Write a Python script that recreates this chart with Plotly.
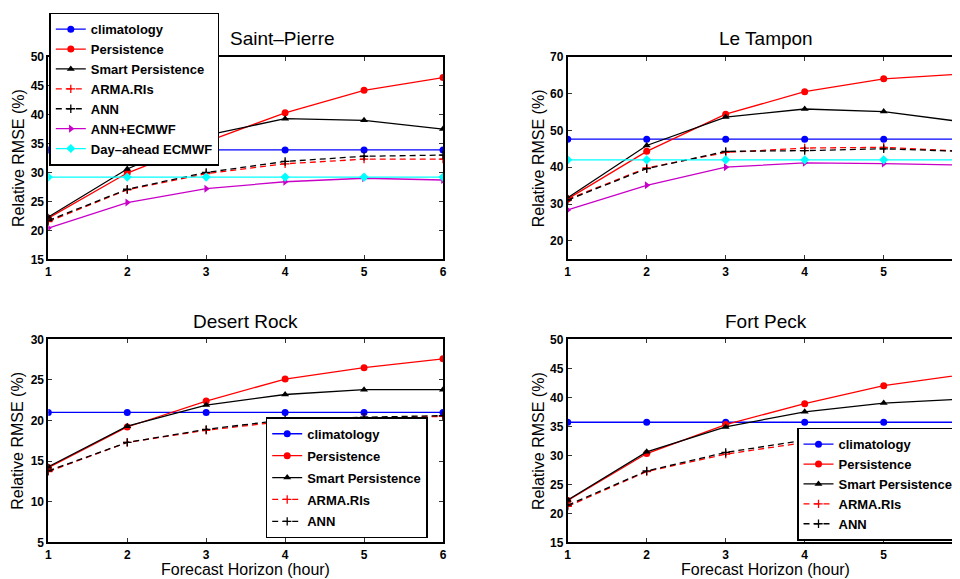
import plotly.graph_objects as go

# ---------------- data ----------------
horizon = [1, 2, 3, 4, 5, 6]
series_names = ["climatology", "Persistence", "Smart Persistence", "ARMA.RIs",
                "ANN", "ANN+ECMWF", "Day–ahead ECMWF"]

# Saint-Pierre
sp_clim = [33.9, 33.9, 33.9, 33.9, 33.9, 33.9]
sp_pers = [22.1, 29.9, 35.3, 40.3, 44.2, 46.4]
sp_smart = [22.3, 30.6, 36.4, 39.3, 39.0, 37.5]
sp_arma = [21.5, 27.0, 29.8, 31.5, 32.3, 32.3]
sp_ann = [21.7, 27.1, 30.0, 31.9, 32.8, 33.0]
sp_annec = [20.4, 24.8, 27.2, 28.4, 29.0, 28.7]
sp_dayahead = [29.2, 29.2, 29.2, 29.2, 29.2, 29.2]

# Le Tampon
lt_clim = [47.6, 47.6, 47.6, 47.6, 47.6, 47.6]
lt_pers = [31.4, 44.3, 54.4, 60.5, 64.0, 65.3]
lt_smart = [31.7, 45.9, 53.6, 55.8, 55.1, 52.3]
lt_arma = [31.3, 39.8, 44.0, 45.2, 45.4, 44.3]
lt_ann = [31.1, 39.6, 44.3, 44.5, 45.0, 44.3]
lt_annec = [28.4, 35.1, 40.0, 41.2, 41.0, 40.6]
lt_dayahead = [42.0, 42.0, 42.0, 42.0, 42.0, 42.0]

# Desert Rock
dr_clim = [21.0, 21.0, 21.0, 21.0, 21.0, 21.0]
dr_pers = [14.2, 19.2, 22.4, 25.1, 26.5, 27.6]
dr_smart = [14.3, 19.3, 21.9, 23.2, 23.8, 23.8]
dr_arma = [13.7, 17.3, 18.8, 19.9, 20.3, 20.5]
dr_ann = [13.8, 17.3, 18.9, 20.1, 20.4, 20.6]

# Fort Peck
fp_clim = [35.7, 35.7, 35.7, 35.7, 35.7, 35.7]
fp_pers = [22.2, 30.3, 35.3, 38.9, 42.0, 43.9]
fp_smart = [22.3, 30.6, 34.9, 37.5, 39.0, 39.7]
fp_arma = [21.2, 27.2, 30.2, 32.2, 33.6, 34.4]
fp_ann = [21.4, 27.3, 30.5, 32.6, 33.7, 34.4]

station_titles = ["Saint–Pierre", "Le Tampon", "Desert Rock", "Fort Peck"]
y_tick_values = [
    [15, 20, 25, 30, 35, 40, 45, 50],
    [20, 30, 40, 50, 60, 70],
    [5, 10, 15, 20, 25, 30],
    [15, 20, 25, 30, 35, 40, 45, 50],
]
y_ranges = [[15, 50], [15, 70], [5, 30], [15, 50]]
y_title = "Relative RMSE (%)"
x_title = "Forecast Horizon (hour)"

# ---------------- styling ----------------
FONT = "Liberation Sans, Arial, Helvetica, sans-serif"
styles = {
    "climatology": dict(color="#0000ff", symbol="circle", dash="solid", size=7),
    "Persistence": dict(color="#ff0000", symbol="circle", dash="solid", size=7),
    "Smart Persistence": dict(color="#000000", symbol="triangle-up", dash="solid", size=7),
    "ARMA.RIs": dict(color="#ff0000", symbol="cross-thin", dash="6px,4px", size=6),
    "ANN": dict(color="#000000", symbol="cross-thin", dash="6px,4px", size=6),
    "ANN+ECMWF": dict(color="#c800c8", symbol="triangle-right", dash="solid", size=7),
    "Day–ahead ECMWF": dict(color="#00ffff", symbol="diamond", dash="solid", size=7),
}

fig = go.Figure()

panels = [
    ("x", "y", "legend", True, [sp_clim, sp_pers, sp_smart, sp_arma, sp_ann, sp_annec, sp_dayahead]),
    ("x2", "y2", "legend", False, [lt_clim, lt_pers, lt_smart, lt_arma, lt_ann, lt_annec, lt_dayahead]),
    ("x3", "y3", "legend2", True, [dr_clim, dr_pers, dr_smart, dr_arma, dr_ann]),
    ("x4", "y4", "legend3", True, [fp_clim, fp_pers, fp_smart, fp_arma, fp_ann]),
]

for pi, (xa, ya, leg, show, series) in enumerate(panels):
    for name, vals in zip(series_names, series):
        st = styles[name]
        thin = st["symbol"] == "cross-thin"
        fig.add_trace(go.Scatter(
            x=horizon, y=vals, name=name, mode="lines+markers",
            xaxis=xa, yaxis=ya,
            legend=leg,
            legendgroup=f"p{pi}-{name}",
            showlegend=show,
            line=dict(color=st["color"], width=1.3, dash=st["dash"]),
            marker=dict(symbol=st["symbol"], size=st["size"], color=st["color"],
                        line=dict(width=1.3 if thin else 0, color=st["color"])),
        ))

# ---------------- geometry (page px -> figure px; page body has an 8px margin) ----------------
OFF = 8.0
W = 960.0 - OFF
H = 579.0 - OFF


def fx(px):
    return (px - OFF) / W


def fy(py):
    return 1 - (py - OFF) / H


left_dom = [fx(48.3), fx(443.0)]
right_dom = [fx(567.7), 1.0]
top_dom = [fy(259.3), fy(56.7)]
bot_dom = [fy(542.3), fy(339.3)]
right_xmax = 1 + (960.0 - 567.7) / 79.0

tickfont = dict(family=FONT, size=12, color="black", weight="bold")


def xaxis(dom, rng, anchor):
    return dict(domain=dom, range=rng, anchor=anchor, tickvals=horizon,
                ticks="inside", ticklen=4, tickwidth=1, tickcolor="#333",
                showline=True, linecolor="black", linewidth=1.8,
                mirror="ticks", showgrid=False, zeroline=False,
                tickfont=tickfont, automargin=False)


def yaxis(dom, rng, ticks_, anchor, mirror):
    return dict(domain=dom, range=rng, anchor=anchor, tickvals=ticks_,
                ticks="inside", ticklen=4, tickwidth=1, tickcolor="#333",
                showline=True, linecolor="black", linewidth=1.8,
                mirror=mirror, showgrid=False, zeroline=False,
                tickfont=tickfont, automargin=False)


fig.update_layout(
    xaxis=xaxis(left_dom, [1, 6], "y"),
    yaxis=yaxis(top_dom, y_ranges[0], y_tick_values[0], "x", "ticks"),
    xaxis2=xaxis(right_dom, [1, right_xmax], "y2"),
    yaxis2=yaxis(top_dom, y_ranges[1], y_tick_values[1], "x2", False),
    xaxis3=xaxis(left_dom, [1, 6], "y3"),
    yaxis3=yaxis(bot_dom, y_ranges[2], y_tick_values[2], "x3", "ticks"),
    xaxis4=xaxis(right_dom, [1, right_xmax], "y4"),
    yaxis4=yaxis(bot_dom, y_ranges[3], y_tick_values[3], "x4", False),
)

legend_common = dict(
    bgcolor="white", bordercolor="black", borderwidth=1.5,
    font=dict(family=FONT, size=13, color="black", weight="bold"),
    itemwidth=30, xanchor="left",
)
fig.update_layout(
    legend=dict(x=fx(49.3), y=fy(12.7), yanchor="top", tracegroupgap=0,
                **legend_common),
    legend2=dict(x=fx(265.7), y=fy(538.3), yanchor="bottom", tracegroupgap=2,
                 **legend_common),
    legend3=dict(x=fx(797.0), y=fy(540.7), yanchor="bottom", tracegroupgap=0,
                 **legend_common),
)

# ---------------- titles (as text annotations) ----------------
ann = []
title_pos = [(282, 38), (766, 38), (245.7, 321), (766, 321)]
for t, (px, py) in zip(station_titles, title_pos):
    ann.append(dict(text=t, x=fx(px), y=fy(py), xref="paper", yref="paper",
                    xanchor="center", yanchor="middle", showarrow=False,
                    font=dict(family=FONT, size=19, color="black")))
ylab_pos = [(18, 158), (538.3, 158), (18, 440.8), (538.3, 440.8)]
for px, py in ylab_pos:
    ann.append(dict(text=y_title, x=fx(px), y=fy(py), xref="paper", yref="paper",
                    xanchor="center", yanchor="middle", textangle=-90, showarrow=False,
                    font=dict(family=FONT, size=16, color="black")))
for px in (245.8, 765.5):
    ann.append(dict(text=x_title, x=fx(px), y=fy(569.5), xref="paper", yref="paper",
                    xanchor="center", yanchor="middle", showarrow=False,
                    font=dict(family=FONT, size=16, color="black")))

fig.update_layout(
    annotations=ann,
    width=int(W), height=int(H),
    margin=dict(l=0, r=0, t=0, b=0, autoexpand=False),
    paper_bgcolor="white", plot_bgcolor="white",
    font=dict(family=FONT, color="black"),
)

fig.write_html("out.html")
